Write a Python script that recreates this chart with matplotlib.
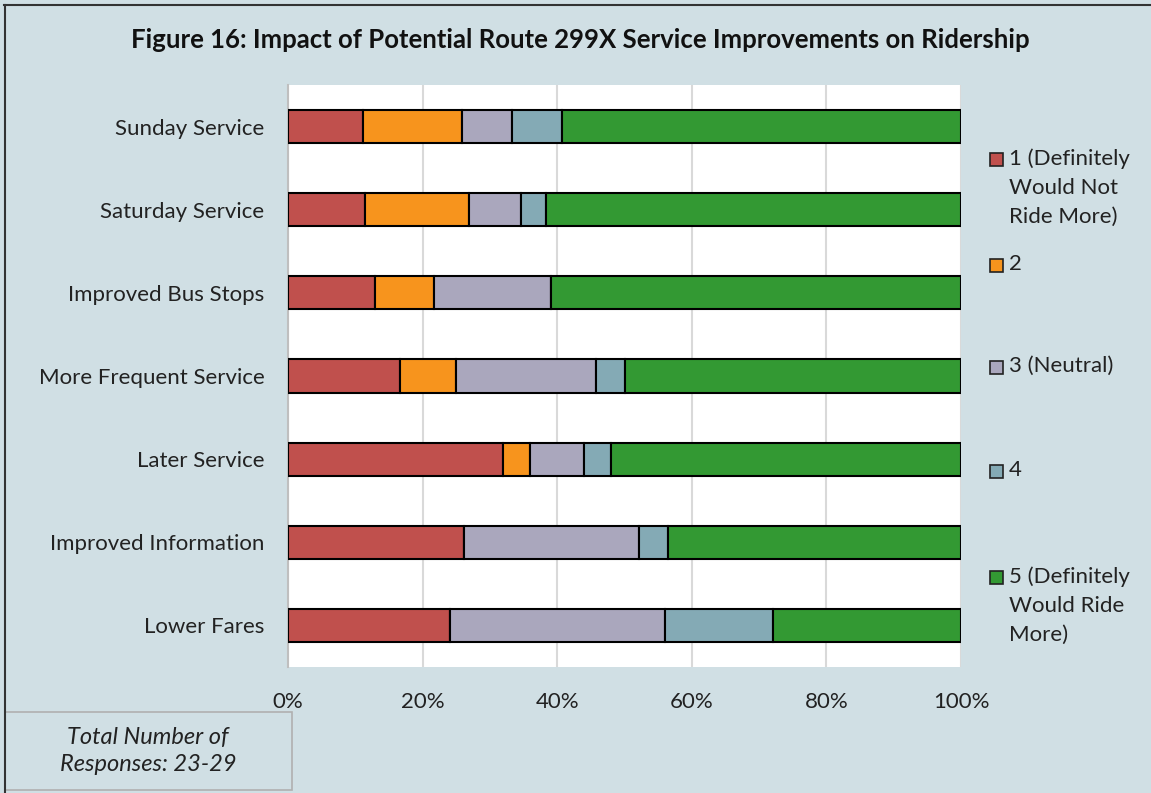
import matplotlib.pyplot as plt
import numpy as np
from matplotlib.patches import Rectangle
from matplotlib.lines import Line2D

plt.rcParams['font.family'] = ['Lato', 'DejaVu Sans']

# categories, top to bottom as in the chart
categories = ["Sunday Service", "Saturday Service", "Improved Bus Stops",
              "More Frequent Service", "Later Service", "Improved Information",
              "Lower Fares"]

# share of responses (%) per rating
r1 = [11.1, 11.5, 13.0, 16.7, 32.0, 26.1, 24.0]
r2 = [14.8, 15.4, 8.7, 8.3, 4.0, 0.0, 0.0]
r3 = [7.4, 7.7, 17.4, 20.8, 8.0, 26.1, 32.0]
r4 = [7.4, 3.8, 0.0, 4.2, 4.0, 4.3, 16.0]
r5 = [59.3, 61.6, 60.9, 50.0, 52.0, 43.5, 28.0]

series = [r1, r2, r3, r4, r5]
labels = ["1 (Definitely\nWould Not\nRide More)", "2", "3 (Neutral)", "4",
          "5 (Definitely\nWould Ride\nMore)"]
colors = ["#c0504d", "#f7941d", "#aaa7bd", "#84aab5", "#339933"]

W, H = 1151, 793
bg = "#d0dfe4"
fig = plt.figure(figsize=(W / 100, H / 100), dpi=100, facecolor=bg)
ax = fig.add_axes([288 / W, 1 - 667 / H, 673 / W, 582 / H])
ax.set_facecolor("white")

y = np.arange(len(categories))
left = np.zeros(len(categories))
for vals, c in zip(series, colors):
    vals = np.array(vals)
    ax.barh(y, vals, left=left, height=0.4, color=c, edgecolor="black",
            linewidth=1.5, zorder=3)
    left += vals

ax.set_xlim(0, 100)
ax.set_ylim(len(categories) - 0.5, -0.5)
ax.set_yticks(y)
ax.set_yticklabels(categories, fontsize=16, color="#222222")
ax.set_xticks(np.arange(0, 101, 20))
ax.set_xticklabels([f"{v}%" for v in range(0, 101, 20)], fontsize=16, color="#222222")
ax.tick_params(axis="both", length=0)
ax.tick_params(axis="y", pad=17)
ax.tick_params(axis="x", pad=18)
ax.grid(axis="x", color="#d9d9d9", linewidth=1.5, zorder=0)
for s in ["top", "right", "bottom"]:
    ax.spines[s].set_visible(False)
ax.spines["left"].set_color("#bfbfbf")
ax.spines["left"].set_linewidth(1.5)

fig.text(580 / W, 1 - 40 / H, "Figure 16: Impact of Potential Route 299X Service Improvements on Ridership",
         ha="center", va="center", fontsize=18.5, fontweight="bold", color="#111111")

# legend down the right side
leg_y = [159, 265, 367, 471, 577]
for lab, c, yy in zip(labels, colors, leg_y):
    fig.patches.append(Rectangle((990 / W, 1 - (yy + 7) / H), 13 / W, 13 / H,
                                 transform=fig.transFigure, facecolor=c,
                                 edgecolor="#222222", linewidth=1.2))
    fig.text(1009 / W, 1 - (yy - 11) / H, lab, ha="left", va="top",
             fontsize=16, color="#222222", linespacing=1.56)

# responses box
fig.patches.append(Rectangle((5 / W, 1 - 790 / H), 287 / W, 78 / H,
                             transform=fig.transFigure, facecolor=bg,
                             edgecolor="#b0b0b0", linewidth=1.2))
fig.text(148 / W, 1 - 751 / H, "Total Number of\nResponses: 23-29",
         ha="center", va="center", fontsize=17, style="italic",
         color="#222222", linespacing=1.4)

# outer frame: top and left edges only
fig.lines.append(Line2D([4 / W, 1], [1 - 5 / H, 1 - 5 / H], transform=fig.transFigure,
                        color="#333333", linewidth=1.5))
fig.lines.append(Line2D([5 / W, 5 / W], [0, 1 - 5 / H], transform=fig.transFigure,
                        color="#333333", linewidth=1.5))

fig.savefig("out.png", dpi=100, facecolor=bg)
